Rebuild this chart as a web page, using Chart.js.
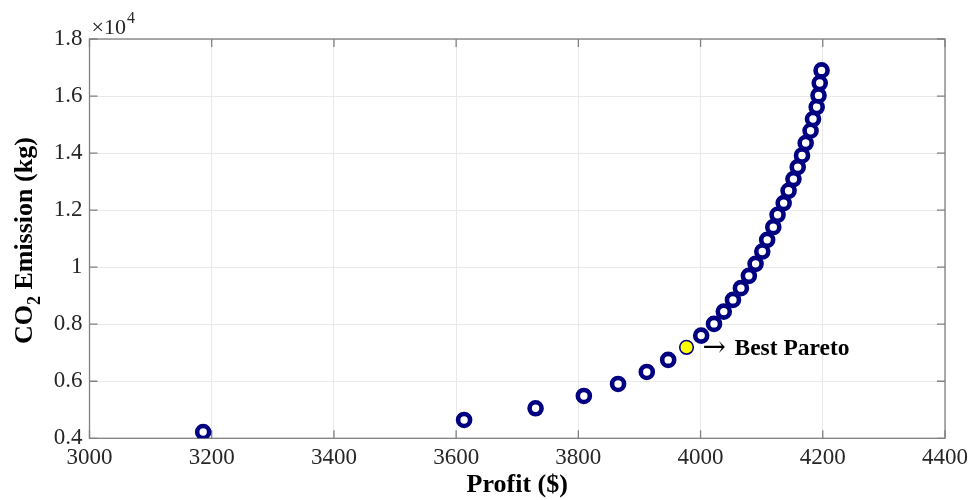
<!DOCTYPE html>
<html>
<head>
<meta charset="utf-8">
<script src="https://cdn.jsdelivr.net/npm/chart.js@4.4.1/dist/chart.umd.min.js"></script>
<style>
  html, body { margin: 0; padding: 0; background: #ffffff; }
  #wrap { width: 974px; height: 500px; position: relative; }
</style>
</head>
<body>
<div id="wrap"><canvas id="c" width="974" height="500"></canvas></div>
<script>
// ---- data ----
const profit = [3186, 3613, 3730, 3809, 3865, 3912, 3947, 4001, 4022, 4038, 4053, 4066, 4079, 4090, 4101,
                4109, 4119, 4126, 4136, 4144, 4152, 4159, 4166, 4172, 4180, 4184, 4190, 4193, 4195, 4198];
const emission = [4221, 4642, 5053, 5484, 5905, 6326, 6748, 7600, 8011, 8442, 8853, 9264, 9695, 10116, 10548,
                  10958, 11404, 11836, 12246, 12678, 13088, 13509, 13916, 14351, 14783, 15194, 15615, 16022, 16457, 16899];
const bestProfit = [3977];
const bestEmission = [7190];
const xTickLabels = ['3000', '3200', '3400', '3600', '3800', '4000', '4200', '4400'];
const yTickLabels = ['0.4', '0.6', '0.8', '1', '1.2', '1.4', '1.6', '1.8'];
const xTitle = 'Profit ($)';
const yTitleParts = ['CO', '2', ' Emission (kg)'];
const bestLabel = 'Best Pareto';

const SERIF = '"Liberation Serif", "DejaVu Serif", serif';
const AXIS_COLOR = '#808080';

const paretoPoints = profit.map((x, i) => ({ x: x, y: emission[i] }));
const bestPoints = bestProfit.map((x, i) => ({ x: x, y: bestEmission[i] }));

const decorPlugin = {
  id: 'decor',
  beforeDatasetsDraw(chart) {
    const ctx = chart.ctx;
    const xs = chart.scales.x, ys = chart.scales.y;
    const a = chart.chartArea;
    ctx.save();
    ctx.strokeStyle = AXIS_COLOR;
    ctx.lineWidth = 1.3;
    ctx.strokeRect(a.left, a.top, a.right - a.left, a.bottom - a.top);
    const tl = 8;
    ctx.beginPath();
    xs.ticks.forEach(t => {
      const px = xs.getPixelForValue(t.value);
      ctx.moveTo(px, a.bottom); ctx.lineTo(px, a.bottom - tl);
      ctx.moveTo(px, a.top); ctx.lineTo(px, a.top + tl);
    });
    ys.ticks.forEach(t => {
      const py = ys.getPixelForValue(t.value);
      ctx.moveTo(a.left, py); ctx.lineTo(a.left + tl, py);
      ctx.moveTo(a.right, py); ctx.lineTo(a.right - tl, py);
    });
    ctx.stroke();
    ctx.restore();
  },
  afterDraw(chart) {
    const ctx = chart.ctx;
    const a = chart.chartArea;
    ctx.save();
    // exponent label
    ctx.fillStyle = '#262626';
    ctx.textBaseline = 'alphabetic';
    ctx.textAlign = 'left';
    ctx.font = '22px ' + SERIF;
    const base = '\u00d710';
    ctx.fillText(base, a.left + 2, a.top - 5);
    const bw = ctx.measureText(base).width;
    ctx.font = '16px ' + SERIF;
    ctx.fillText('4', a.left + 2 + bw + 1, a.top - 16);

    // y-axis title with subscript
    ctx.fillStyle = '#000000';
    ctx.translate(25, (a.top + a.bottom) / 2 + 2);
    ctx.rotate(-Math.PI / 2);
    const fMain = 'bold 26px ' + SERIF;
    const fSub = 'bold 18px ' + SERIF;
    ctx.font = fMain; const w0 = ctx.measureText(yTitleParts[0]).width;
    ctx.font = fSub; const w1 = ctx.measureText(yTitleParts[1]).width;
    ctx.font = fMain; const w2 = ctx.measureText(yTitleParts[2]).width;
    let x0 = -(w0 + w1 + w2) / 2;
    ctx.textBaseline = 'middle';
    ctx.font = fMain; ctx.fillText(yTitleParts[0], x0, 0);
    ctx.font = fSub; ctx.fillText(yTitleParts[1], x0 + w0, 10);
    ctx.font = fMain; ctx.fillText(yTitleParts[2], x0 + w0 + w1, 0);
    ctx.restore();

    // best pareto annotation
    const pt = chart.getDatasetMeta(1).data[0];
    if (pt) {
      ctx.save();
      ctx.fillStyle = '#000000';
      ctx.textBaseline = 'alphabetic';
      ctx.textAlign = 'left';
      ctx.font = '28px "DejaVu Serif", serif';
      ctx.fillText('\u2192', pt.x + 16, pt.y + 9);
      ctx.font = 'bold 23.5px ' + SERIF;
      ctx.fillText(bestLabel, pt.x + 48, pt.y + 8);
      ctx.restore();
    }
  }
};

new Chart(document.getElementById('c'), {
  type: 'scatter',
  data: {
    datasets: [
      {
        label: 'Pareto front',
        data: paretoPoints,
        pointRadius: 6,
        pointHoverRadius: 6,
        pointBorderWidth: 4.6,
        borderColor: '#000080',
        backgroundColor: '#ffffff',
        pointBorderColor: '#000080',
        pointBackgroundColor: '#ffffff'
      },
      {
        label: 'Best Pareto',
        data: bestPoints,
        pointRadius: 6.8,
        pointHoverRadius: 6.8,
        pointBorderWidth: 1.6,
        pointBorderColor: '#000080',
        pointBackgroundColor: '#ffff00'
      }
    ]
  },
  options: {
    responsive: false,
    animation: false,
    events: [],
    layout: { padding: { left: 0, right: 25, top: 39, bottom: 0 } },
    plugins: { legend: { display: false }, tooltip: { enabled: false } },
    scales: {
      x: {
        type: 'linear',
        min: 3000, max: 4400,
        afterBuildTicks(s) { s.ticks = xTickLabels.map(v => ({ value: Number(v) })); },
        afterFit(s) { s.height = 61.7; },
        grid: { color: '#e9e9e9', lineWidth: 1, drawTicks: false },
        border: { display: false },
        ticks: {
          padding: 6,
          color: '#262626',
          font: { family: SERIF, size: 23 },
          maxRotation: 0,
          callback: (v, i) => xTickLabels[i]
        },
        title: {
          display: true,
          text: xTitle,
          color: '#000000',
          font: { family: SERIF, size: 26, weight: 'bold' },
          padding: { top: 0, bottom: -1 }
        }
      },
      y: {
        type: 'linear',
        min: 4000, max: 18000,
        afterBuildTicks(s) { s.ticks = yTickLabels.map(v => ({ value: Math.round(Number(v) * 10000) })); },
        afterFit(s) { s.width = 89.5; },
        grid: { color: '#e9e9e9', lineWidth: 1, drawTicks: false },
        border: { display: false },
        ticks: {
          padding: 7,
          color: '#262626',
          font: { family: SERIF, size: 23 },
          callback: (v, i) => yTickLabels[i]
        }
      }
    }
  },
  plugins: [decorPlugin]
});
</script>
</body>
</html>
